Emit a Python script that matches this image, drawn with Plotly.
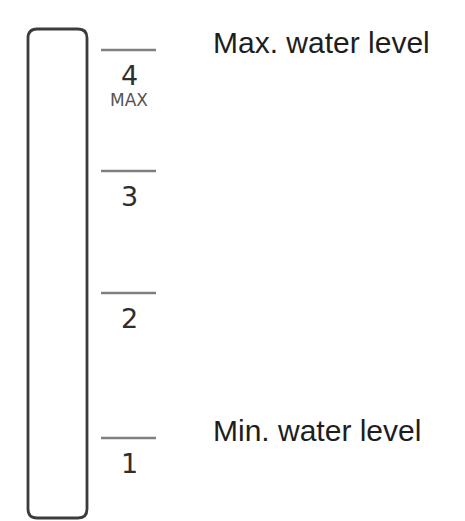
import plotly.graph_objects as go

# ---- data ----
level_labels = ["1", "2", "3", "4"]
level_heights = [83, 228, 350, 471]          # gauge height of each mark
tube_bottom, tube_top = 3, 492               # gauge tube extent
sub_label = {"4": "MAX"}
side_labels = ["Min. water level", "Max. water level"]
side_label_levels = ["1", "4"]

W, H = 465, 521
fig = go.Figure()

# tube (rounded rectangle)
x0, x1, r = 28, 87, 9
y0, y1 = tube_bottom, tube_top
path = (f"M {x0},{y1-r} Q {x0},{y1} {x0+r},{y1} L {x1-r},{y1} Q {x1},{y1} {x1},{y1-r} "
        f"L {x1},{y0+r} Q {x1},{y0} {x1-r},{y0} L {x0+r},{y0} Q {x0},{y0} {x0},{y0+r} Z")
fig.add_shape(type="path", path=path, xref="x", yref="y",
              line=dict(color="#3c3c3c", width=2.8), fillcolor="rgba(0,0,0,0)")

# level marks
xs, ys = [], []
for h in level_heights:
    xs += [101, 156, None]
    ys += [h, h, None]
fig.add_trace(go.Scatter(x=xs, y=ys, mode="lines",
                         line=dict(color="#808080", width=2.4), hoverinfo="skip"))

digit_font = dict(family="DejaVu Sans", size=27, color="#2e2e2e")
for lab, h in zip(level_labels, level_heights):
    fig.add_annotation(x=129, y=h, text=lab, showarrow=False, xanchor="center",
                       yanchor="middle", yshift=-25, font=digit_font)
    if lab in sub_label:
        fig.add_annotation(x=129, y=h, text=sub_label[lab], showarrow=False,
                           xanchor="center", yanchor="middle", yshift=-50,
                           font=dict(family="DejaVu Sans", size=17, color="#555555"))

side_font = dict(family="Liberation Sans, Arial", size=30, color="#1e1e1e")
for txt, lv in zip(side_labels, side_label_levels):
    h = level_heights[level_labels.index(lv)]
    fig.add_annotation(x=211, y=h, text=txt, showarrow=False, xanchor="left",
                       yanchor="middle", yshift=8, font=side_font)

fig.update_layout(width=W, height=H, margin=dict(l=0, r=0, t=0, b=0),
                  paper_bgcolor="white", plot_bgcolor="white", showlegend=False,
                  xaxis=dict(range=[0, W], visible=False, fixedrange=True),
                  yaxis=dict(range=[0, H], visible=False, fixedrange=True))
fig.write_html("out.html", config={"displayModeBar": False},
               post_script="document.body.style.margin='0';document.body.style.overflow='hidden';")
